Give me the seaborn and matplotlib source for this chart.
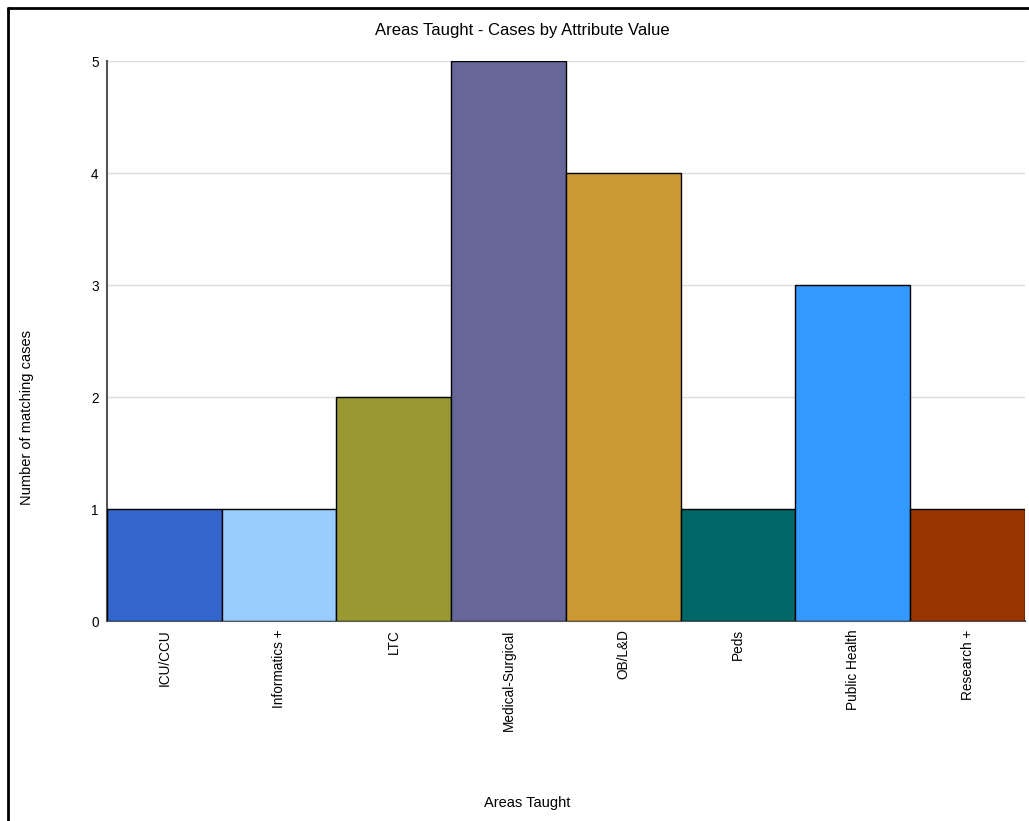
import matplotlib
matplotlib.use("Agg")
import matplotlib.pyplot as plt
import seaborn as sns
import pandas as pd
from matplotlib.lines import Line2D

# chart data
areas = ["ICU/CCU", "Informatics +", "LTC", "Medical-Surgical", "OB/L&D",
         "Peds", "Public Health", "Research +"]
cases = [1, 1, 2, 5, 4, 1, 3, 1]
colors = ["#3366CC", "#99CCFF", "#999933", "#666699", "#CC9933",
          "#006666", "#3399FF", "#993300"]

df = pd.DataFrame({"area": areas, "cases": cases})

sns.set_style("white")
plt.rcParams["font.family"] = ["Liberation Sans", "DejaVu Sans"]
plt.rcParams["text.color"] = "black"

fig = plt.figure(figsize=(10.29, 8.21), dpi=100)
ax = fig.add_axes([0.104, 0.2436, 0.892, 0.6821])

sns.barplot(data=df, x="area", y="cases", hue="area", palette=colors,
            legend=False, width=1.0, edgecolor="black", linewidth=1,
            saturation=1, ax=ax, zorder=3)

ax.set_xlim(-0.5, len(areas) - 0.5)
ax.set_ylim(0, 5)
ax.set_yticks([0, 1, 2, 3, 4, 5])
ax.yaxis.grid(True, color="#dddddd", linewidth=1, zorder=0)
ax.set_axisbelow(True)
for s in ["top", "right"]:
    ax.spines[s].set_visible(False)
for s in ["left", "bottom"]:
    ax.spines[s].set_color("#555555")
    ax.spines[s].set_linewidth(1.5)
ax.tick_params(axis="both", length=0, labelsize=9.8, colors="black", pad=6)
plt.setp(ax.get_xticklabels(), rotation=90)
ax.set_xlabel("")
ax.set_ylabel("")

# title and axis labels placed like the original layout
fig.text(522 / 1029, 1 - 30 / 821, "Areas Taught - Cases by Attribute Value",
         fontsize=12, ha="center", va="center", color="black")
fig.text(527 / 1029, 1 - 803 / 821, "Areas Taught",
         fontsize=10.5, ha="center", va="center", color="black")
fig.text(27 / 1029, 1 - 417 / 821, "Number of matching cases",
         fontsize=10.5, ha="center", va="center", rotation=90, color="black")

# outer frame (top and left edges)
fig.add_artist(Line2D([8 / 1029, 1], [1 - 8 / 821, 1 - 8 / 821],
                      transform=fig.transFigure, color="black", linewidth=2))
fig.add_artist(Line2D([8 / 1029, 8 / 1029], [0, 1 - 8 / 821],
                      transform=fig.transFigure, color="black", linewidth=2))

fig.savefig("out.png", dpi=100)
